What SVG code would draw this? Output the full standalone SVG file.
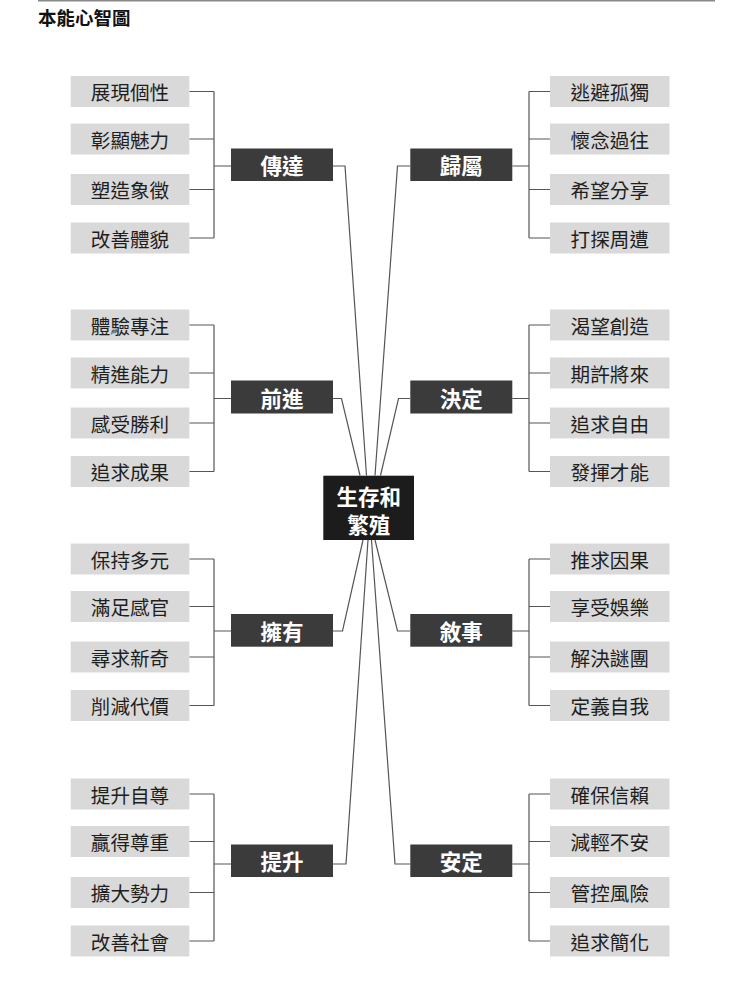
<svg xmlns="http://www.w3.org/2000/svg" width="740" height="984" viewBox="0 0 740 984">
<style>
.leaf rect{fill:#d9d9d9}
.leaf text{fill:#1e1e1e;font-family:"Noto Sans CJK TC","Noto Sans CJK SC",sans-serif;font-size:19.6px;text-anchor:middle;dominant-baseline:central}
.cat rect{fill:#3b3b3b}
.cat text{fill:#fff;font-family:"Noto Sans CJK TC","Noto Sans CJK SC",sans-serif;font-size:21.5px;font-weight:bold;text-anchor:middle;dominant-baseline:central}
.center rect{fill:#1c1c1c}
.center text{fill:#fff;font-family:"Noto Sans CJK TC","Noto Sans CJK SC",sans-serif;font-size:21.5px;font-weight:bold;text-anchor:middle;dominant-baseline:central}
.conn path{fill:none;stroke:#555;stroke-width:1.2}
.title{fill:#111;font-family:"Noto Sans CJK TC","Noto Sans CJK SC",sans-serif;font-size:18.5px;font-weight:bold}
</style>
<rect width="740" height="984" fill="#fff"/>
<line x1="38" y1="0.8" x2="715" y2="0.8" stroke="#888" stroke-width="1.5"/>
<text class="title" x="38" y="24.5">本能心智圖</text>

<g class="conn" id="connectors">
<path d="M189.3,91.5H214M189.3,139H214M189.3,189.5H214M189.3,238H214M214,91.5V238M214,166H231"/>
<path d="M189.3,325H214M189.3,373H214M189.3,423H214M189.3,471.5H214M214,325V471.5M214,398.5H231"/>
<path d="M189.3,559H214M189.3,606.5H214M189.3,657H214M189.3,705.5H214M214,559V705.5M214,631H231"/>
<path d="M189.3,794H214M189.3,841.5H214M189.3,892.5H214M189.3,941H214M214,794V941M214,864H231"/>
<path d="M550,91.5H529M550,139H529M550,189.5H529M550,238H529M529,91.5V238M529,166H512.3"/>
<path d="M550,325H529M550,373H529M550,423H529M550,471.5H529M529,325V471.5M529,398.5H512.3"/>
<path d="M550,559H529M550,606.5H529M550,657H529M550,705.5H529M529,559V705.5M529,631H512.3"/>
<path d="M550,794H529M550,841.5H529M550,892.5H529M550,941H529M529,794V941M529,864H512.3"/>
<path d="M333,166H345L366.5,475.5"/>
<path d="M410,166H397.5L375,475.5"/>
<path d="M333,398.5H341.5L360,475.5"/>
<path d="M410,398.5H398.5L380.5,475.5"/>
<path d="M333,631H342.5L363,540"/>
<path d="M410,631H397.5L375,540"/>
<path d="M333,864H346L368,540"/>
<path d="M410,864H395L371.5,540"/>
</g>

<g id="center" class="center">
<rect x="323.3" y="475.7" width="90.7" height="64.3"/>
<text x="368.7" y="495.5">生存和</text>
<text x="368.7" y="523.5">繁殖</text>
</g>

<g id="cat-chuanda" class="cat"><rect x="231" y="148.5" width="102" height="32.5"/><text x="282" y="164.8">傳達</text></g>
<g id="cat-guishu" class="cat"><rect x="410.3" y="148.5" width="102" height="32.5"/><text x="461.3" y="164.8">歸屬</text></g>
<g id="cat-qianjin" class="cat"><rect x="231" y="380.5" width="102" height="33"/><text x="282" y="397">前進</text></g>
<g id="cat-jueding" class="cat"><rect x="410.3" y="380.5" width="102" height="33"/><text x="461.3" y="397">決定</text></g>
<g id="cat-yongyou" class="cat"><rect x="231" y="614" width="102" height="32.7"/><text x="282" y="630.3">擁有</text></g>
<g id="cat-xushi" class="cat"><rect x="410.3" y="614" width="102" height="32.7"/><text x="461.3" y="630.3">敘事</text></g>
<g id="cat-tisheng" class="cat"><rect x="231" y="844.5" width="102" height="32.5"/><text x="282" y="860.8">提升</text></g>
<g id="cat-anding" class="cat"><rect x="410.3" y="844.5" width="102" height="32.5"/><text x="461.3" y="860.8">安定</text></g>

<g id="l1a" class="leaf"><rect x="70.7" y="76" width="118.6" height="31"/><text x="130" y="91.5">展現個性</text></g>
<g id="l1b" class="leaf"><rect x="70.7" y="123.5" width="118.6" height="31"/><text x="130" y="139">彰顯魅力</text></g>
<g id="l1c" class="leaf"><rect x="70.7" y="174" width="118.6" height="31"/><text x="130" y="189.5">塑造象徵</text></g>
<g id="l1d" class="leaf"><rect x="70.7" y="222.5" width="118.6" height="31"/><text x="130" y="238">改善體貌</text></g>

<g id="l2a" class="leaf"><rect x="70.7" y="309.5" width="118.6" height="31"/><text x="130" y="325">體驗專注</text></g>
<g id="l2b" class="leaf"><rect x="70.7" y="357.5" width="118.6" height="31"/><text x="130" y="373">精進能力</text></g>
<g id="l2c" class="leaf"><rect x="70.7" y="407.5" width="118.6" height="31"/><text x="130" y="423">感受勝利</text></g>
<g id="l2d" class="leaf"><rect x="70.7" y="456" width="118.6" height="31"/><text x="130" y="471.5">追求成果</text></g>

<g id="l3a" class="leaf"><rect x="70.7" y="543.5" width="118.6" height="31"/><text x="130" y="559">保持多元</text></g>
<g id="l3b" class="leaf"><rect x="70.7" y="591" width="118.6" height="31"/><text x="130" y="606.5">滿足感官</text></g>
<g id="l3c" class="leaf"><rect x="70.7" y="641.5" width="118.6" height="31"/><text x="130" y="657">尋求新奇</text></g>
<g id="l3d" class="leaf"><rect x="70.7" y="690" width="118.6" height="31"/><text x="130" y="705.5">削減代價</text></g>

<g id="l4a" class="leaf"><rect x="70.7" y="778.5" width="118.6" height="31"/><text x="130" y="794">提升自尊</text></g>
<g id="l4b" class="leaf"><rect x="70.7" y="826" width="118.6" height="31"/><text x="130" y="841.5">贏得尊重</text></g>
<g id="l4c" class="leaf"><rect x="70.7" y="877" width="118.6" height="31"/><text x="130" y="892.5">擴大勢力</text></g>
<g id="l4d" class="leaf"><rect x="70.7" y="925.5" width="118.6" height="31"/><text x="130" y="941">改善社會</text></g>

<g id="r1a" class="leaf"><rect x="550" y="76" width="119.5" height="31"/><text x="609.8" y="91.5">逃避孤獨</text></g>
<g id="r1b" class="leaf"><rect x="550" y="123.5" width="119.5" height="31"/><text x="609.8" y="139">懷念過往</text></g>
<g id="r1c" class="leaf"><rect x="550" y="174" width="119.5" height="31"/><text x="609.8" y="189.5">希望分享</text></g>
<g id="r1d" class="leaf"><rect x="550" y="222.5" width="119.5" height="31"/><text x="609.8" y="238">打探周遭</text></g>

<g id="r2a" class="leaf"><rect x="550" y="309.5" width="119.5" height="31"/><text x="609.8" y="325">渴望創造</text></g>
<g id="r2b" class="leaf"><rect x="550" y="357.5" width="119.5" height="31"/><text x="609.8" y="373">期許將來</text></g>
<g id="r2c" class="leaf"><rect x="550" y="407.5" width="119.5" height="31"/><text x="609.8" y="423">追求自由</text></g>
<g id="r2d" class="leaf"><rect x="550" y="456" width="119.5" height="31"/><text x="609.8" y="471.5">發揮才能</text></g>

<g id="r3a" class="leaf"><rect x="550" y="543.5" width="119.5" height="31"/><text x="609.8" y="559">推求因果</text></g>
<g id="r3b" class="leaf"><rect x="550" y="591" width="119.5" height="31"/><text x="609.8" y="606.5">享受娛樂</text></g>
<g id="r3c" class="leaf"><rect x="550" y="641.5" width="119.5" height="31"/><text x="609.8" y="657">解決謎團</text></g>
<g id="r3d" class="leaf"><rect x="550" y="690" width="119.5" height="31"/><text x="609.8" y="705.5">定義自我</text></g>

<g id="r4a" class="leaf"><rect x="550" y="778.5" width="119.5" height="31"/><text x="609.8" y="794">確保信賴</text></g>
<g id="r4b" class="leaf"><rect x="550" y="826" width="119.5" height="31"/><text x="609.8" y="841.5">減輕不安</text></g>
<g id="r4c" class="leaf"><rect x="550" y="877" width="119.5" height="31"/><text x="609.8" y="892.5">管控風險</text></g>
<g id="r4d" class="leaf"><rect x="550" y="925.5" width="119.5" height="31"/><text x="609.8" y="941">追求簡化</text></g>
</svg>
